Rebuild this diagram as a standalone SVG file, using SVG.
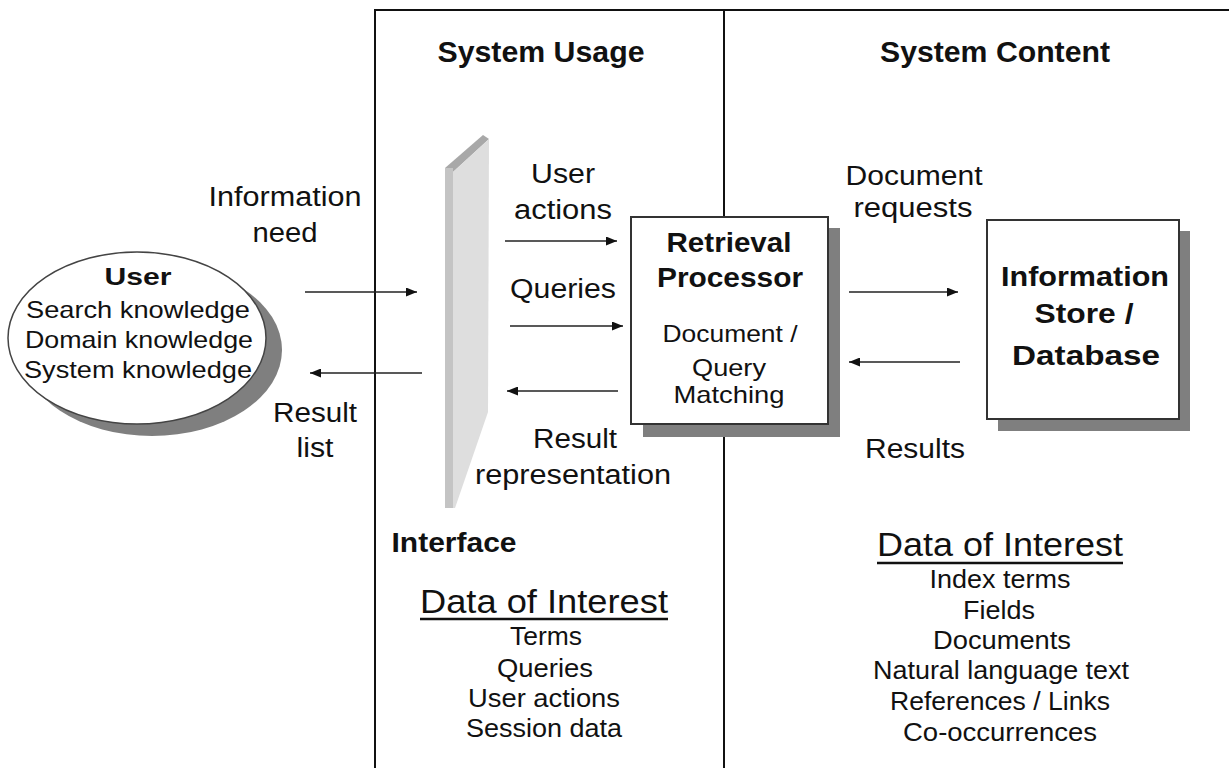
<svg xmlns="http://www.w3.org/2000/svg" width="1229" height="768" viewBox="0 0 1229 768">
<style>
text{font-family:"Liberation Sans",Arial,sans-serif;fill:#111;text-anchor:middle}
.b{font-weight:bold}
.lbl{font-size:27px}
.hd{font-size:29px;font-weight:bold}
.ell{font-size:24px}
.box{fill:#fff;stroke:#333;stroke-width:2}
.shadow{fill:#7f7f7f}
.frame{stroke:#111;stroke-width:2;fill:none}
.conn line{stroke:#222;stroke-width:1.6;marker-end:url(#ah)}
.ul{stroke:#111;stroke-width:2.5}
.doi{font-size:34px}
.item{font-size:26px}
</style>
<defs>
<marker id="ah" markerUnits="userSpaceOnUse" markerWidth="11" markerHeight="9" refX="11" refY="4.5" orient="auto">
<path d="M0,0 L11,4.5 L0,9 z" fill="#111"/>
</marker>
</defs>
<rect width="1229" height="768" fill="#fff"/>

<g id="frame">
<path class="frame" d="M375,768 V10 H1229"/>
<line class="frame" x1="724" y1="10" x2="724" y2="768"/>
</g>

<g id="headers">
<text class="hd" x="541" y="62" textLength="207" lengthAdjust="spacingAndGlyphs">System Usage</text>
<text class="hd" x="995" y="62" textLength="230" lengthAdjust="spacingAndGlyphs">System Content</text>
</g>

<g id="user">
<ellipse class="shadow" cx="152" cy="350" rx="130" ry="86"/>
<ellipse cx="137" cy="338" rx="129" ry="86" fill="#fff" stroke="#444" stroke-width="1.5"/>
<text class="b" x="138" y="285" font-size="24" textLength="67" lengthAdjust="spacingAndGlyphs">User</text>
<text class="ell" x="138" y="318" textLength="224" lengthAdjust="spacingAndGlyphs">Search knowledge</text>
<text class="ell" x="139" y="348" textLength="228" lengthAdjust="spacingAndGlyphs">Domain knowledge</text>
<text class="ell" x="138" y="378" textLength="228" lengthAdjust="spacingAndGlyphs">System knowledge</text>
</g>

<g id="interface">
<polygon points="445,168 483,135 489,139 453,172" fill="#a8a8a8"/>
<rect x="445" y="168" width="8" height="340" fill="#c4c4c4"/>
<polygon points="453,172 489,139 488,412 455,508 453,508" fill="#dedede"/>
<text class="b" x="454" y="552" font-size="27" textLength="125" lengthAdjust="spacingAndGlyphs">Interface</text>
</g>

<g id="retrieval">
<rect class="shadow" x="643" y="228" width="197" height="209"/>
<rect class="box" x="631" y="217" width="197" height="207"/>
<text class="b" x="729" y="252" font-size="28" textLength="125" lengthAdjust="spacingAndGlyphs">Retrieval</text>
<text class="b" x="730" y="287" font-size="28" textLength="146" lengthAdjust="spacingAndGlyphs">Processor</text>
<text x="730" y="342" font-size="24" textLength="135" lengthAdjust="spacingAndGlyphs">Document /</text>
<text x="729" y="376" font-size="24" textLength="74" lengthAdjust="spacingAndGlyphs">Query</text>
<text x="729" y="403" font-size="24" textLength="111" lengthAdjust="spacingAndGlyphs">Matching</text>
</g>

<g id="store">
<rect class="shadow" x="998" y="231" width="192" height="200"/>
<rect class="box" x="987" y="220" width="192" height="199"/>
<text class="b" x="1085" y="286" font-size="28" textLength="168" lengthAdjust="spacingAndGlyphs">Information</text>
<text class="b" x="1084" y="323" font-size="28" textLength="99" lengthAdjust="spacingAndGlyphs">Store /</text>
<text class="b" x="1086" y="365" font-size="28" textLength="148" lengthAdjust="spacingAndGlyphs">Database</text>
</g>

<g class="conn" id="connectors">
<line x1="305" y1="292" x2="417" y2="292"/>
<line x1="422" y1="373" x2="310" y2="373"/>
<line x1="505" y1="241" x2="617" y2="241"/>
<line x1="510" y1="326" x2="623" y2="326"/>
<line x1="618" y1="391" x2="507" y2="391"/>
<line x1="849" y1="292" x2="958" y2="292"/>
<line x1="960" y1="362" x2="849" y2="362"/>
</g>

<g id="labels">
<text class="lbl" x="285" y="206" textLength="153" lengthAdjust="spacingAndGlyphs">Information</text>
<text class="lbl" x="285" y="242" textLength="65" lengthAdjust="spacingAndGlyphs">need</text>
<text class="lbl" x="315" y="422" textLength="84" lengthAdjust="spacingAndGlyphs">Result</text>
<text class="lbl" x="315" y="457" textLength="37" lengthAdjust="spacingAndGlyphs">list</text>
<text class="lbl" x="563" y="183" textLength="64" lengthAdjust="spacingAndGlyphs">User</text>
<text class="lbl" x="563" y="219" textLength="98" lengthAdjust="spacingAndGlyphs">actions</text>
<text class="lbl" x="563" y="298" textLength="106" lengthAdjust="spacingAndGlyphs">Queries</text>
<text class="lbl" x="575" y="448" textLength="84" lengthAdjust="spacingAndGlyphs">Result</text>
<text class="lbl" x="573" y="484" textLength="196" lengthAdjust="spacingAndGlyphs">representation</text>
<text class="lbl" x="914" y="185" textLength="137" lengthAdjust="spacingAndGlyphs">Document</text>
<text class="lbl" x="913" y="217" textLength="119" lengthAdjust="spacingAndGlyphs">requests</text>
<text class="lbl" x="915" y="458" textLength="100" lengthAdjust="spacingAndGlyphs">Results</text>
</g>

<g id="doi-usage">
<text class="doi" x="544" y="613" textLength="248" lengthAdjust="spacingAndGlyphs">Data of Interest</text>
<line class="ul" x1="420" y1="619" x2="668" y2="619"/>
<text class="item" x="546" y="645" textLength="72" lengthAdjust="spacingAndGlyphs">Terms</text>
<text class="item" x="545" y="677" textLength="96" lengthAdjust="spacingAndGlyphs">Queries</text>
<text class="item" x="544" y="707" textLength="152" lengthAdjust="spacingAndGlyphs">User actions</text>
<text class="item" x="544" y="737" textLength="156" lengthAdjust="spacingAndGlyphs">Session data</text>
</g>

<g id="doi-content">
<text class="doi" x="1000" y="556" textLength="246" lengthAdjust="spacingAndGlyphs">Data of Interest</text>
<line class="ul" x1="877" y1="563" x2="1123" y2="563"/>
<text class="item" x="1000" y="588" textLength="141" lengthAdjust="spacingAndGlyphs">Index terms</text>
<text class="item" x="999" y="619" textLength="72" lengthAdjust="spacingAndGlyphs">Fields</text>
<text class="item" x="1002" y="649" textLength="138" lengthAdjust="spacingAndGlyphs">Documents</text>
<text class="item" x="1001" y="679" textLength="256" lengthAdjust="spacingAndGlyphs">Natural language text</text>
<text class="item" x="1000" y="710" textLength="220" lengthAdjust="spacingAndGlyphs">References / Links</text>
<text class="item" x="1000" y="741" textLength="194" lengthAdjust="spacingAndGlyphs">Co-occurrences</text>
</g>
</svg>
